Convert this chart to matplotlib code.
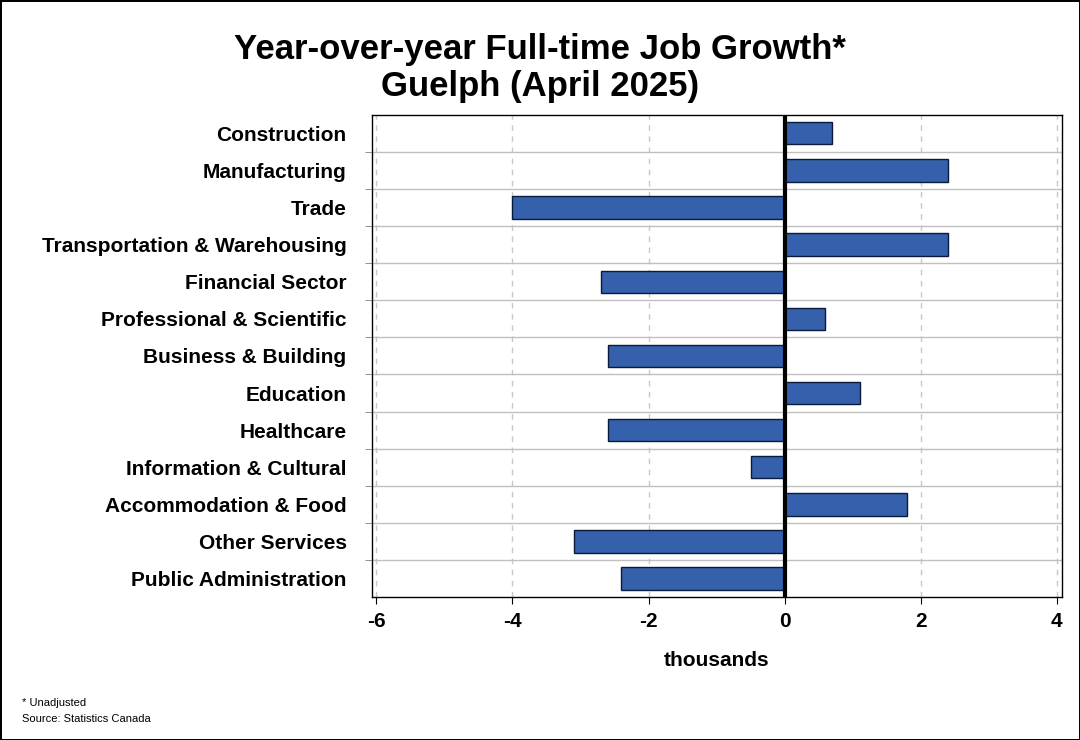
import matplotlib.pyplot as plt
import numpy as np

categories = ["Construction", "Manufacturing", "Trade", "Transportation & Warehousing",
              "Financial Sector", "Professional & Scientific", "Business & Building",
              "Education", "Healthcare", "Information & Cultural",
              "Accommodation & Food", "Other Services", "Public Administration"]
values = [0.7, 2.4, -4.0, 2.4, -2.7, 0.6, -2.6, 1.1, -2.6, -0.5, 1.8, -3.1, -2.4]
xticks = [-6, -4, -2, 0, 2, 4]

plt.rcParams['font.family'] = 'Liberation Sans'

fig = plt.figure(figsize=(10.8, 7.4), dpi=100)
fig.patch.set_edgecolor('black')
fig.patch.set_linewidth(2)
ax = fig.add_axes([0.344, 0.193, 0.639, 0.652])

y = np.arange(len(categories))
ax.barh(y, values, height=0.6, color='#3560ab', edgecolor='#0a1a3a', linewidth=1, zorder=3)
ax.set_ylim(len(categories) - 0.5, -0.5)
ax.set_xlim(-6.07, 4.07)

for s in range(len(categories) - 1):
    ax.axhline(s + 0.5, color='#c0c0c0', linewidth=1, zorder=1)
for t in xticks:
    if t != 0:
        ax.axvline(t, color='#c8c8c8', linestyle=(0, (4, 4)), linewidth=1, zorder=0)
ax.axvline(0, color='black', linewidth=3, zorder=4)

ax.set_yticks(y)
ax.set_yticklabels(categories, fontsize=15, fontweight='bold')
ax.set_yticks(np.arange(len(categories) - 1) + 0.5, minor=True)
ax.tick_params(axis='y', which='major', length=0, pad=18)
ax.tick_params(axis='y', which='minor', length=5, color='#808080')
ax.set_xticks(xticks)
ax.set_xticklabels([str(t) for t in xticks], fontsize=15, fontweight='bold')
ax.tick_params(axis='x', length=5, pad=6)
ax.set_xlabel('thousands', fontsize=15, fontweight='bold', labelpad=14)
for sp in ax.spines.values():
    sp.set_linewidth(1)

fig.text(0.5, 0.955, "Year-over-year Full-time Job Growth*\nGuelph (April 2025)",
         ha='center', va='top', fontsize=25, fontweight='bold', linespacing=1.15)
fig.text(0.02, 0.046, "* Unadjusted", fontsize=8)
fig.text(0.02, 0.024, "Source: Statistics Canada", fontsize=8)

fig.savefig('out.png', dpi=100)
